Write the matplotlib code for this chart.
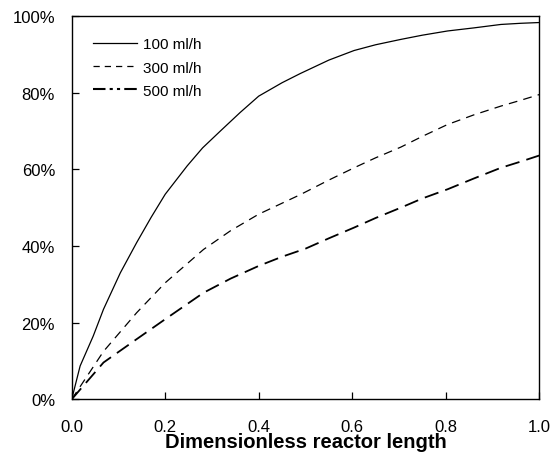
import matplotlib.pyplot as plt
from matplotlib.lines import Line2D
from matplotlib.ticker import PercentFormatter

plt.rcParams['font.family'] = ['Liberation Sans', 'DejaVu Sans']

# dimensionless reactor length vs conversion (%)
x_100 = [0.0, 0.018, 0.046, 0.068, 0.104, 0.139, 0.17, 0.2, 0.247, 0.28, 0.318,
         0.36, 0.4, 0.45, 0.489, 0.55, 0.604, 0.65, 0.704, 0.75, 0.804, 0.86,
         0.918, 0.96, 1.0]
y_100 = [0.0, 8.7, 16.5, 23.5, 33.0, 40.9, 47.5, 53.5, 60.9, 65.6, 70.0,
         74.8, 79.1, 82.6, 85.0, 88.5, 91.0, 92.5, 93.9, 95.0, 96.1, 96.9,
         97.8, 98.1, 98.3]

x_300 = [0.0, 0.068, 0.139, 0.2, 0.282, 0.34, 0.4, 0.489, 0.55, 0.604, 0.65,
         0.704, 0.75, 0.804, 0.86, 0.918, 0.96, 1.0]
y_300 = [0.0, 12.5, 22.6, 30.4, 39.1, 44.0, 48.3, 53.4, 57.2, 60.4, 63.0,
         65.8, 68.6, 71.7, 74.2, 76.5, 78.0, 79.5]

x_500 = [0.0, 0.068, 0.139, 0.2, 0.282, 0.34, 0.4, 0.45, 0.5, 0.55, 0.604,
         0.65, 0.704, 0.75, 0.804, 0.86, 0.918, 0.96, 1.0]
y_500 = [0.0, 9.6, 15.7, 20.9, 27.8, 31.5, 34.8, 37.2, 39.3, 42.0, 44.8,
         47.3, 50.0, 52.4, 54.8, 57.6, 60.4, 62.0, 63.6]

labels = ['100 ml/h', '300 ml/h', '500 ml/h']


def main():
    fig = plt.figure(figsize=(5.5, 4.6), dpi=100)
    ax = fig.add_axes([0.1304, 0.1298, 0.85, 0.8332])

    ax.plot(x_100, y_100, color='black', lw=0.9)
    ax.plot(x_300, y_300, color='black', lw=0.9, linestyle=(0, (7, 5)))
    ax.plot(x_500, y_500, color='black', lw=1.3, linestyle=(0, (8, 4)))

    ax.set_xlim(0, 1)
    ax.set_ylim(0, 100)
    ax.set_xticks([0.0, 0.2, 0.4, 0.6, 0.8, 1.0])
    ax.set_yticks([0, 20, 40, 60, 80, 100])
    ax.xaxis.set_major_formatter(lambda v, p: f'{v:.1f}')
    ax.yaxis.set_major_formatter(PercentFormatter(decimals=0))
    ax.tick_params(direction='in', length=5, width=0.9, labelsize=12)
    ax.tick_params(axis='x', pad=14)
    ax.tick_params(axis='y', pad=12)
    for s in ax.spines.values():
        s.set_linewidth(1.0)

    ax.set_xlabel('Dimensionless reactor length', fontsize=14.5,
                  fontweight='bold', labelpad=-1)

    handles = [
        Line2D([], [], color='black', lw=0.9),
        Line2D([], [], color='black', lw=0.9, linestyle=(0, (5, 4))),
        Line2D([], [], color='black', lw=1.5, linestyle=(0, (6, 2, 1.5, 2, 1.5, 2))),
    ]
    ax.legend(handles, labels, loc='upper left', frameon=False, fontsize=11,
              handlelength=2.9, handletextpad=0.4, labelspacing=0.6,
              bbox_to_anchor=(0.016, 0.98))

    fig.savefig('out.png', dpi=100)


if __name__ == '__main__':
    main()
